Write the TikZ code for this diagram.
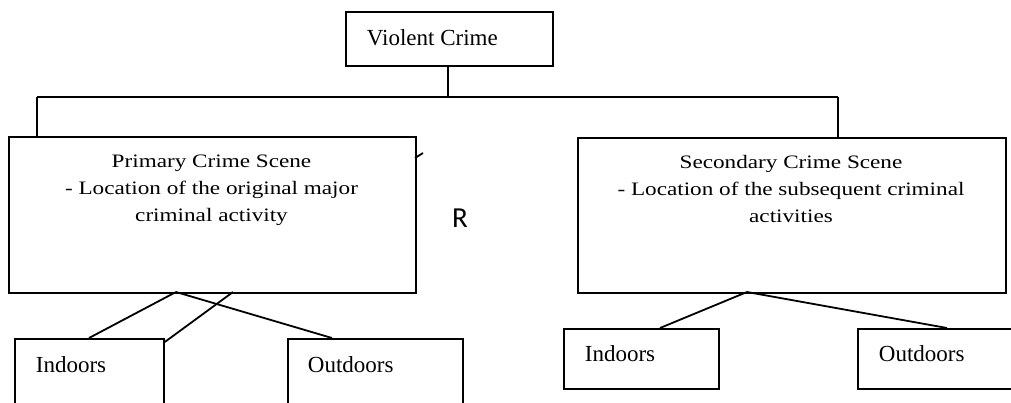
\documentclass[tikz,border=0pt]{standalone}
\usepackage{fontspec}
\setmainfont{Liberation Serif}
\newfontfamily\stretchedserif[FakeStretch=1.22]{Liberation Serif}
\newfontfamily\carlfont{Carlito}
\usetikzlibrary{calc}
\begin{document}
\begin{tikzpicture}[x=1pt,y=-1pt,
  line width=1.8pt,
  boxstyle/.style={draw,line width=1.8pt,rectangle,inner sep=0pt},
  lbl/.style={inner sep=0pt,font=\fontsize{23}{27}\selectfont},
  bigtxt/.style={inner sep=0pt,align=center,font=\stretchedserif\fontsize{19}{27}\selectfont},
  link/.style={draw,line width=1.8pt}]
\useasboundingbox (0,0) rectangle (1011,402);
\clip (0,0) rectangle (1011,402);
% top box
\node[boxstyle,minimum width=207pt,minimum height=54pt,anchor=north west] (vc) at (345,11) {};
\node[lbl,anchor=base west] (vct) at (366,45) {Violent Crime};
% second level boxes
\node[boxstyle,minimum width=407pt,minimum height=156pt,anchor=north west] (prim) at (8,136) {};
\node[boxstyle,minimum width=428pt,minimum height=155pt,anchor=north west] (sec) at (577,137) {};
\node[bigtxt,anchor=north] (primt) at (211.5,154) {Primary Crime Scene\\- Location of the original major\\criminal activity};
\node[bigtxt,anchor=north] (sect) at (791,154) {Secondary Crime Scene\\- Location of the subsequent criminal\\activities};
% connectors top
\coordinate (junc) at (448,97);
\coordinate (jl) at (37,97);
\coordinate (jr) at (838,97);
\draw[link] (vc.south -| junc) -- (junc);
\draw[link] (jl) -- (jr);
\draw[link] (jl) -- (jl |- prim.north);
\draw[link] (jr) -- (jr |- sec.north);
% stray tick and R
\coordinate (ta) at (415,158);
\coordinate (tb) at (423,153);
\draw[link] (ta) -- (tb);
\node[inner sep=0pt,font=\carlfont\fontsize{29}{30}\selectfont] (rr) at (460,218) {R};
% bottom left boxes
\node[boxstyle,minimum width=149pt,minimum height=100pt,anchor=north west] (in1) at (14,338) {};
\node[boxstyle,minimum width=175pt,minimum height=100pt,anchor=north west] (out1) at (287,338) {};
\node[lbl,anchor=base west] (in1t) at (35,372) {Indoors};
\node[lbl,anchor=base west] (out1t) at (307,372) {Outdoors};
% bottom right boxes
\node[boxstyle,minimum width=155pt,minimum height=60pt,anchor=north west] (in2) at (563,328) {};
\node[boxstyle,minimum width=160pt,minimum height=60pt,anchor=north west] (out2) at (857,328) {};
\node[lbl,anchor=base west] (in2t) at (584,361) {Indoors};
\node[lbl,anchor=base west] (out2t) at (878,361) {Outdoors};
% lower connectors
\coordinate (pa) at (176,292);
\coordinate (pb) at (233,292);
\coordinate (sa) at (747,292);
\draw[link] (pa) -- (in1.north west -| 89,0);
\draw[link] (pb) -- ($(in1.north east)+(0,4)$);
\draw[link] (pa) -- (out1.north west -| 332,0);
\draw[link] (sa) -- (in2.north west -| 660,0);
\draw[link] (sa) -- (out2.north west -| 947,0);
\end{tikzpicture}
\end{document}
